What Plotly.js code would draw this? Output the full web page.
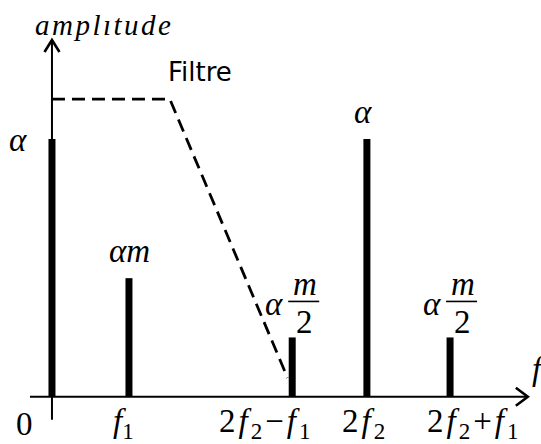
<!DOCTYPE html>
<html>
<head>
<meta charset="utf-8">
<script src="https://cdn.plot.ly/plotly-3.0.1.min.js"></script>
<style>
  html, body { margin: 0; padding: 0; background: #fff; }
  #chart { width: 541px; height: 444px; }
</style>
</head>
<body>
<div id="chart"></div>
<script>
// Spectrum lines (frequency position, amplitude) and the low-pass filter template
const freqLabels = [
  '0',
  '<i>f</i><sub>1</sub>',
  '2<i>f</i><sub>2</sub>\u2212<i>f</i><sub>1</sub>',
  '2<i>f</i><sub>2</sub>',
  '2<i>f</i><sub>2</sub>+<i>f</i><sub>1</sub>'
];
const freqPos = [0, 1, 3.12, 4.09, 5.17];
const amplitude = [1, 0.46, 0.23, 1, 0.23];
// peak annotations: plain text or a fraction (alpha * num / den)
const peakLabels = [null, '<i>\u03b1m</i>', {num: '<i>m</i>', den: '2'}, '<i>\u03b1</i>', {num: '<i>m</i>', den: '2'}];

const filterFreq = [0, 1.53, 3.06];
const filterGain = [1.155, 1.155, 0.073];

// ---- figure geometry ----
const W = 541, H = 444;
const xRange = [-0.675, 6.351];
const yRange = [-0.1835, 1.5394];
const pxX = W / (xRange[1] - xRange[0]);
const pxY = H / (yRange[1] - yRange[0]);
const dx = p => p / pxX;
const dy = p => p / pxY;

const axisTop = 1.384;     // tip of the amplitude arrow
const axisEnd = 6.18;      // tip of the frequency arrow

const SERIF = '"Liberation Serif", "Times New Roman", serif';
const mathFont = {family: SERIF, size: 33, color: '#000'};
const ink = '#000';

// horizontal offsets (px) of the frequency labels relative to their line
const labelShift = [-27, -5, -26, -2, 24];
// wider math-style spacing between glyphs
const spaced = (t, px) => `<span style="letter-spacing:${px}px">${t}</span>`;

const traces = [
  {
    type: 'bar',
    x: freqPos,
    y: amplitude,
    width: dx(7),
    marker: {color: ink, line: {width: 0}},
    hoverinfo: 'skip'
  },
  {
    type: 'scatter',
    mode: 'lines',
    x: filterFreq,
    y: filterGain,
    line: {color: ink, width: 2.8, dash: '13px,7px'},
    hoverinfo: 'skip'
  }
];

const shapes = [
  // amplitude axis
  {type: 'line', x0: 0, x1: 0, y0: -dy(23), y1: axisTop, line: {color: ink, width: 2}},
  // frequency axis
  {type: 'line', x0: -dx(22), x1: axisEnd, y0: 0, y1: 0, line: {color: ink, width: 2}},
  // arrow heads
  {type: 'path',
   path: `M ${-dx(7.5)} ${axisTop - dy(12)} L 0 ${axisTop} L ${dx(7.5)} ${axisTop - dy(12)}`,
   line: {color: ink, width: 2.6}},
  {type: 'path',
   path: `M ${axisEnd - dx(12)} ${dy(9)} L ${axisEnd} 0 L ${axisEnd - dx(12)} ${-dy(9)}`,
   line: {color: ink, width: 2.6}}
];

const annotations = [];
const ann = (o) => annotations.push(Object.assign({showarrow: false, font: mathFont,
  xanchor: 'center', yanchor: 'middle'}, o));

// frequency tick labels
freqLabels.forEach((t, i) => ann({x: freqPos[i], y: 0, text: i > 1 ? spaced(t, 3) : t,
  xshift: labelShift[i], yshift: -27}));

// amplitude tick label
ann({x: 0, y: amplitude[0], text: '<i>\u03b1</i>', xshift: -34, yshift: -1});

// peak labels
peakLabels.forEach((p, i) => {
  if (!p) return;
  const x = freqPos[i], y = amplitude[i];
  if (typeof p === 'string') {
    ann({x: x, y: y, text: p, xshift: i === 3 ? -4 : 1, yshift: 27});
  } else {
    ann({x: x, y: y, text: '<i>\u03b1</i>', xshift: -18, yshift: 33});
    ann({x: x, y: y, text: p.num, xshift: 13, yshift: 53});
    ann({x: x, y: y, text: p.den, xshift: 12, yshift: 15});
    shapes.push({type: 'line', x0: x - dx(4), x1: x + dx(27), y0: y + dy(36), y1: y + dy(36),
      line: {color: ink, width: 1.6}});
  }
});

// axis titles
ann({x: 0, y: axisTop, text: '<i>' + spaced('ampl\u0131tude', 2.5) + '</i>', xshift: 53, yshift: 15,
     font: {family: SERIF, size: 29, color: ink}});
ann({x: axisEnd, y: 0, text: '<i>f</i>', xanchor: 'left', xshift: 2, yshift: 28});
ann({x: filterFreq[1], y: filterGain[1], text: 'Filtre', xshift: 30, yshift: 27,
     font: {family: '"DejaVu Sans", sans-serif', size: 26, color: ink}});

const layout = {
  width: W, height: H,
  margin: {l: 0, r: 0, t: 0, b: 0, pad: 0},
  paper_bgcolor: '#fff', plot_bgcolor: '#fff',
  showlegend: false,
  xaxis: {range: xRange, visible: false, fixedrange: true},
  yaxis: {range: yRange, visible: false, fixedrange: true},
  shapes: shapes,
  annotations: annotations
};

Plotly.newPlot('chart', traces, layout, {staticPlot: true, displayModeBar: false});
</script>
</body>
</html>
